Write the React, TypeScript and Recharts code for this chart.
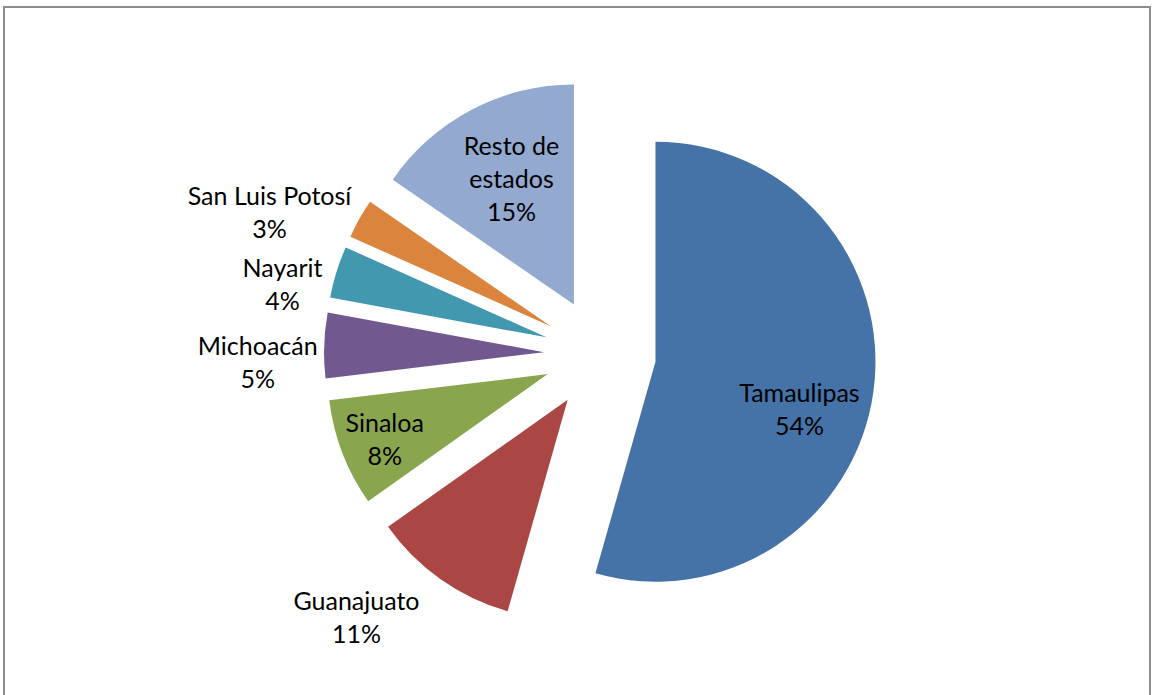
import React from 'react';
import { PieChart, Pie, Cell, Sector } from 'recharts';

const STATES = ['Tamaulipas', 'Guanajuato', 'Sinaloa', 'Michoacán', 'Nayarit', 'San Luis Potosí', 'Resto de estados'];
const SHARES = [54.4, 10.8, 7.9, 4.8, 3.8, 2.9, 15.4];
const COLORS = ['#4572A7', '#AA4643', '#89A54E', '#71588F', '#4198AF', '#DB843D', '#93A9CF'];

const data = STATES.map((name, i) => ({ name, value: SHARES[i] }));

// label layout: radius factor (of outer radius) and angle delta (deg) from the exploded apex
const LABEL_LAYOUT = [
  { rf: 0.689, da: -10.25, inside: true },
  { rf: 1.377, da: -8.9, inside: false },
  { rf: 0.796, da: 0.34, inside: true },
  { rf: 1.302, da: 3.56, inside: false },
  { rf: 1.224, da: 5.84, inside: false },
  { rf: 1.382, da: 7.2, inside: false },
  { rf: 0.641, da: -1.45, inside: true },
];

const EXPLODE = 56;
const RAD = Math.PI / 180;
const FONT = 'Lato, "Open Sans", sans-serif';
const FONT_SIZE = 25;
const LINE_H = 33;

const explodedCenter = (cx: number, cy: number, midAngle: number) => ({
  x: cx + EXPLODE * Math.cos(-midAngle * RAD),
  y: cy + EXPLODE * Math.sin(-midAngle * RAD),
});

const renderShape = (props: any) => {
  const c = explodedCenter(props.cx, props.cy, props.midAngle);
  return <Sector {...props} cx={c.x} cy={c.y} stroke="none" />;
};

const wrap = (text: string, max: number) => {
  const words = text.split(' ');
  const lines: string[] = [];
  let cur = '';
  words.forEach((w) => {
    const t = cur ? cur + ' ' + w : w;
    if (t.length > max && cur) {
      lines.push(cur);
      cur = w;
    } else cur = t;
  });
  if (cur) lines.push(cur);
  return lines;
};

const renderLabel = (props: any) => {
  const { cx, cy, midAngle, outerRadius, percent, name, index } = props;
  const lay = LABEL_LAYOUT[index];
  const c = explodedCenter(cx, cy, midAngle);
  const a = midAngle + lay.da;
  const x = c.x + lay.rf * outerRadius * Math.cos(-a * RAD);
  const y = c.y + lay.rf * outerRadius * Math.sin(-a * RAD);
  const lines = lay.inside ? wrap(name, 10) : [name];
  lines.push(`${Math.round(percent * 100)}%`);
  const top = y - ((lines.length - 1) * LINE_H) / 2;
  return (
    <text
      key={`lbl-${index}`}
      x={x}
      y={top}
      textAnchor="middle"
      dominantBaseline="central"
      fill="#000"
      fontFamily={FONT}
      fontSize={FONT_SIZE}
    >
      {lines.map((l, i) => (
        <tspan key={i} x={x} y={top + i * LINE_H}>
          {l}
        </tspan>
      ))}
    </text>
  );
};

export default function App() {
  return (
    <div style={{ position: 'absolute', left: 0, top: 0, width: 1152, height: 695, overflow: 'hidden', background: '#fff' }}>
      <div
        style={{
          position: 'absolute',
          left: 3,
          top: 6,
          width: 1148,
          height: 760,
          border: '2px solid #8c8c8c',
          boxSizing: 'border-box',
        }}
      />
      <div style={{ position: 'absolute', left: 0, top: 0 }}>
        <PieChart width={1152} height={695} margin={{ top: 0, right: 0, bottom: 0, left: 0 }}>
          <Pie
            data={data}
            dataKey="value"
            nameKey="name"
            cx={600}
            cy={354}
            outerRadius={220}
            startAngle={90}
            endAngle={-270}
            stroke="none"
            isAnimationActive={false}
            labelLine={false}
            label={renderLabel}
            shape={renderShape}
          >
            {data.map((d, i) => (
              <Cell key={d.name} fill={COLORS[i]} />
            ))}
          </Pie>
        </PieChart>
      </div>
    </div>
  );
}
